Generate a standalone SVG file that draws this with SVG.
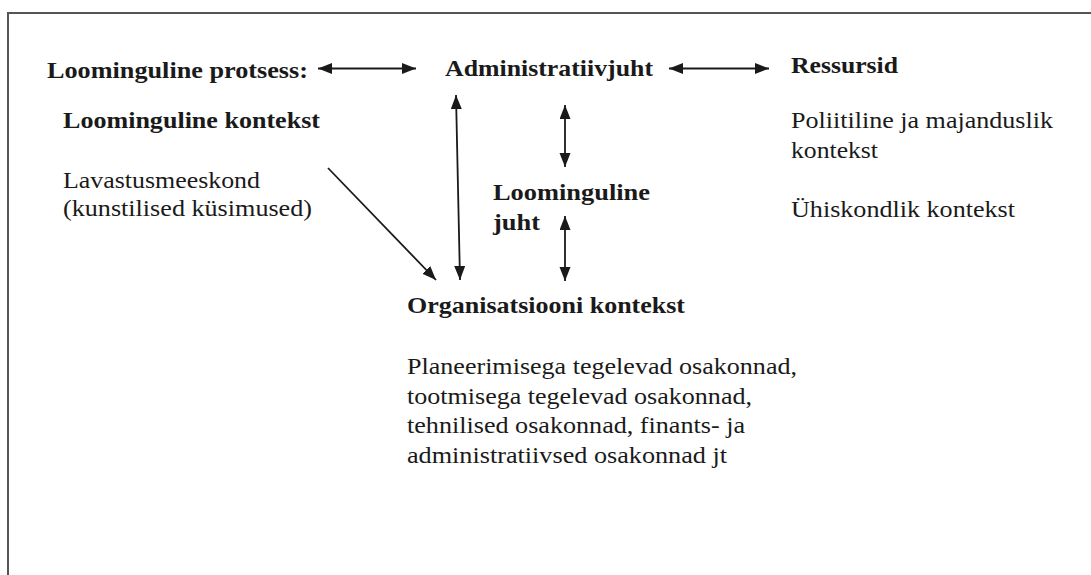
<svg xmlns="http://www.w3.org/2000/svg" width="1091" height="575" viewBox="0 0 1091 575">
<style>
text{font-family:"Liberation Serif","Times New Roman",serif;font-size:23px;fill:#1a1a1a}
.b{font-weight:bold}
.c{stroke:#1a1a1a;stroke-width:1.8;fill:none}
.frame{stroke:#555;stroke-width:2;fill:none}
</style>
<defs>
<marker id="ah" markerUnits="userSpaceOnUse" markerWidth="16" markerHeight="12" refX="14" refY="5.5" orient="auto-start-reverse" viewBox="0 0 16 12">
<path d="M0,0 L14,5.5 L0,11 z" fill="#1a1a1a"/>
</marker>
</defs>
<rect width="1091" height="575" fill="#fff"/>
<path class="frame" d="M8,575 V13 H1091"/>
<g id="protsess"><text class="b" x="47" y="78" textLength="261" lengthAdjust="spacingAndGlyphs">Loominguline protsess:</text></g>
<g id="administratiivjuht"><text class="b" x="445" y="76" textLength="208" lengthAdjust="spacingAndGlyphs">Administratiivjuht</text></g>
<g id="ressursid">
<text class="b" x="791" y="73" textLength="107" lengthAdjust="spacingAndGlyphs">Ressursid</text>
<text x="791" y="128" textLength="262" lengthAdjust="spacingAndGlyphs">Poliitiline ja majanduslik</text>
<text x="791" y="158" textLength="87" lengthAdjust="spacingAndGlyphs">kontekst</text>
<text x="791" y="217" textLength="224" lengthAdjust="spacingAndGlyphs">Ühiskondlik kontekst</text>
</g>
<g id="loominguline-kontekst">
<text class="b" x="63" y="128" textLength="257" lengthAdjust="spacingAndGlyphs">Loominguline kontekst</text>
<text x="63" y="188" textLength="197" lengthAdjust="spacingAndGlyphs">Lavastusmeeskond</text>
<text x="63" y="216" textLength="249" lengthAdjust="spacingAndGlyphs">(kunstilised küsimused)</text>
</g>
<g id="loominguline-juht">
<text class="b" x="493" y="200" textLength="157" lengthAdjust="spacingAndGlyphs">Loominguline</text>
<text class="b" x="493" y="230" textLength="47" lengthAdjust="spacingAndGlyphs">juht</text>
</g>
<g id="organisatsiooni-kontekst">
<text class="b" x="407" y="313" textLength="278" lengthAdjust="spacingAndGlyphs">Organisatsiooni kontekst</text>
<text x="407" y="374" textLength="390" lengthAdjust="spacingAndGlyphs">Planeerimisega tegelevad osakonnad,</text>
<text x="407" y="404" textLength="345" lengthAdjust="spacingAndGlyphs">tootmisega tegelevad osakonnad,</text>
<text x="407" y="433" textLength="338" lengthAdjust="spacingAndGlyphs">tehnilised osakonnad, finants- ja</text>
<text x="407" y="463" textLength="320" lengthAdjust="spacingAndGlyphs">administratiivsed osakonnad jt</text>
</g>
<g id="connectors">
<line class="c" x1="318" y1="68.5" x2="416" y2="68.5" marker-start="url(#ah)" marker-end="url(#ah)"/>
<line class="c" x1="669" y1="68.5" x2="769" y2="68.5" marker-start="url(#ah)" marker-end="url(#ah)"/>
<line class="c" x1="456" y1="95" x2="460" y2="280" marker-start="url(#ah)" marker-end="url(#ah)"/>
<line class="c" x1="565" y1="105" x2="565" y2="167" marker-start="url(#ah)" marker-end="url(#ah)"/>
<line class="c" x1="565" y1="216" x2="565" y2="281" marker-start="url(#ah)" marker-end="url(#ah)"/>
<line class="c" x1="328" y1="168" x2="436" y2="280" marker-end="url(#ah)"/>
</g>
</svg>
